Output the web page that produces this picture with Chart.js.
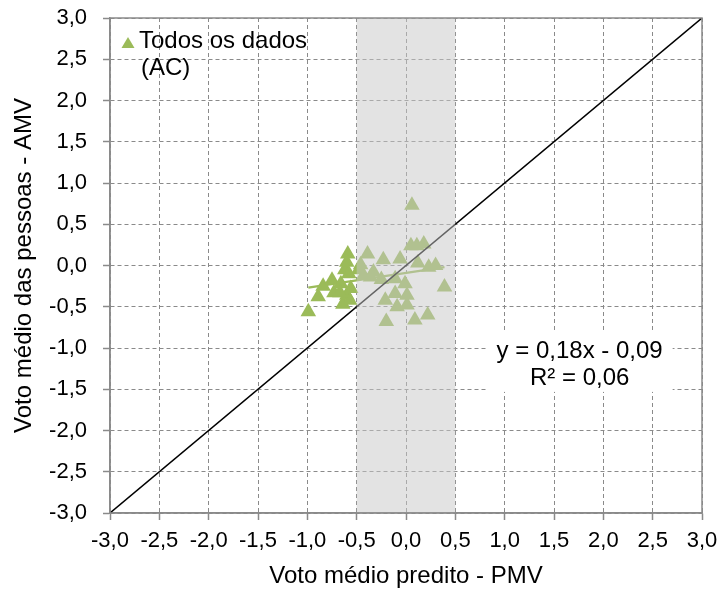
<!DOCTYPE html>
<html>
<head>
<meta charset="utf-8">
<script src="https://cdn.jsdelivr.net/npm/chart.js@4.4.1/dist/chart.umd.min.js"></script>
<style>
	html, body { margin: 0; padding: 0; background: #ffffff; }
	#wrap { position: relative; width: 718px; height: 595px; }
</style>
</head>
<body>
<div id="wrap"><canvas id="pmv-chart"></canvas></div>
<script>
// PMV (x) e AMV (y)
const pmvValues = [
	-0.99, -0.89, -0.84, -0.75, -0.73, -0.66, -0.64, -0.62, -0.59, -0.60,
	-0.58, -0.60, -0.57, -0.56, -0.67,
	0.06, 0.05, 0.11, 0.18, -0.39, -0.23, -0.06, 0.12, 0.23, 0.30,
	-0.46, -0.43, -0.36, -0.25, -0.11, -0.01, 0.39, -0.11, 0.01, -0.21,
	-0.09, 0.01, -0.20, 0.09, 0.22, -0.48, -0.33,
];
const amvValues = [
	-0.56, -0.38, -0.25, -0.18, -0.33, -0.22, -0.47, -0.05, 0.14, 0.04,
	-0.10, -0.36, -0.42, -0.28, -0.33,
	0.73, 0.24, 0.24, 0.26, 0.14, 0.07, 0.08, 0.03, -0.02, 0.00,
	0.01, -0.12, -0.14, -0.17, -0.16, -0.22, -0.26, -0.34, -0.36, -0.42,
	-0.50, -0.48, -0.68, -0.66, -0.60, -0.05, -0.08,
];
const tickValues = [-3, -2.5, -2, -1.5, -1, -0.5, 0, 0.5, 1, 1.5, 2, 2.5, 3];
const tickLabels = ["-3,0", "-2,5", "-2,0", "-1,5", "-1,0", "-0,5", "0,0", "0,5", "1,0", "1,5", "2,0", "2,5", "3,0"];
const comfortBand = [-0.5, 0.5];
const identityLine = [-3, 3];
const trendSlope = 0.18;
const trendIntercept = -0.09;
const seriesName = ["Todos os dados", "(AC)"];
const trendText = ["y = 0,18x - 0,09", "R² = 0,06"];

const FONT = "'Liberation Sans', Arial, sans-serif";
const GREEN = "#9BBB59";
const GRID = "#8a8a8a";

const points = pmvValues.map((x, i) => ({ x, y: amvValues[i] }));
const trendX = [Math.min(...pmvValues), Math.max(...pmvValues)];
const trendPoints = trendX.map((x) => ({ x, y: trendSlope * x + trendIntercept }));

function fixedTicks(scale) {
	scale.ticks = tickValues.map((value) => ({ value }));
}

const overlayPlugin = {
	id: "overlay",
	afterDatasetsDraw(chart) {
		const { ctx, chartArea, scales } = chart;
		const x0 = scales.x.getPixelForValue(comfortBand[0]);
		const x1 = scales.x.getPixelForValue(comfortBand[1]);
		ctx.save();
		ctx.fillStyle = "rgba(199, 199, 199, 0.5)";
		ctx.fillRect(x0, chartArea.top, x1 - x0, chartArea.bottom - chartArea.top);
		ctx.restore();
	},
	afterDraw(chart) {
		const { ctx, chartArea, scales } = chart;
		ctx.save();

		// moldura da área de plotagem
		ctx.strokeStyle = GRID;
		ctx.lineWidth = 1.5;
		ctx.strokeRect(chartArea.left, chartArea.top, chartArea.right - chartArea.left, chartArea.bottom - chartArea.top);

		// equação da linha de tendência
		const cx = scales.x.getPixelForValue(1.76);
		const by = scales.y.getPixelForValue(-1.12);
		ctx.fillStyle = "#ffffff";
		ctx.fillRect(cx - 93, by - 26, 186, 60);
		ctx.fillStyle = "#000000";
		ctx.font = "24px " + FONT;
		ctx.textAlign = "center";
		ctx.textBaseline = "alphabetic";
		ctx.fillText(trendText[0], cx, by);
		ctx.fillText(trendText[1], cx, by + 27);

		// legenda
		const lx = chartArea.left + 18;
		const ly = chartArea.top + 25;
		ctx.fillStyle = GREEN;
		ctx.beginPath();
		ctx.moveTo(lx, ly - 6);
		ctx.lineTo(lx + 6.5, ly + 5);
		ctx.lineTo(lx - 6.5, ly + 5);
		ctx.closePath();
		ctx.fill();
		ctx.fillStyle = "#000000";
		ctx.font = "24px " + FONT;
		ctx.textAlign = "left";
		ctx.fillText(seriesName[0], lx + 11, ly + 5);
		ctx.fillText(seriesName[1], lx + 13, ly + 32);

		ctx.restore();
	},
};

function axisOptions(titleText, isX) {
	return {
		type: "linear",
		min: -3,
		max: 3,
		afterBuildTicks: fixedTicks,
		afterFit(scale) {
			if (isX) {
				scale.height = 82;
				scale.paddingLeft = 0;
				scale.paddingRight = 0;
			} else {
				scale.width = 110;
				scale.paddingTop = 0;
				scale.paddingBottom = 0;
			}
		},
		ticks: {
			color: "#000000",
			font: { family: FONT, size: 22 },
			padding: isX ? 8 : 16,
			maxRotation: 0,
			autoSkip: false,
			callback: (value, index) => tickLabels[index],
		},
		grid: {
			color: GRID,
			lineWidth: 1,
			tickLength: 7,
			tickColor: GRID,
			tickWidth: 1.5,
		},
		border: { display: true, color: GRID, width: 1.5, dash: [4, 3] },
		title: {
			display: true,
			text: titleText,
			color: "#000000",
			font: { family: FONT, size: 24 },
			padding: isX ? { top: 0, bottom: 4 } : { top: 10, bottom: 0 },
		},
	};
}

new Chart(document.getElementById("pmv-chart"), {
	type: "scatter",
	data: {
		datasets: [
			{
				label: "Linha 1:1",
				type: "line",
				data: identityLine.map((v) => ({ x: v, y: v })),
				borderColor: "#000000",
				borderWidth: 1.5,
				pointRadius: 0,
				fill: false,
			},
			{
				label: seriesName.join(" "),
				data: points,
				pointStyle: "triangle",
				pointRadius: 9,
				pointHoverRadius: 9,
				backgroundColor: GREEN,
				borderWidth: 0,
			},
			{
				label: "Tendência",
				type: "line",
				data: trendPoints,
				borderColor: GREEN,
				borderWidth: 2.5,
				pointRadius: 0,
				fill: false,
			},
		],
	},
	options: {
		responsive: true,
		maintainAspectRatio: false,
		animation: false,
		layout: { padding: { top: 18, right: 16, left: 0, bottom: 0 } },
		plugins: {
			legend: { display: false },
			tooltip: { enabled: false },
		},
		scales: {
			x: axisOptions("Voto médio predito - PMV", true),
			y: axisOptions("Voto médio das pessoas - AMV", false),
		},
	},
	plugins: [overlayPlugin],
});
</script>
</body>
</html>
